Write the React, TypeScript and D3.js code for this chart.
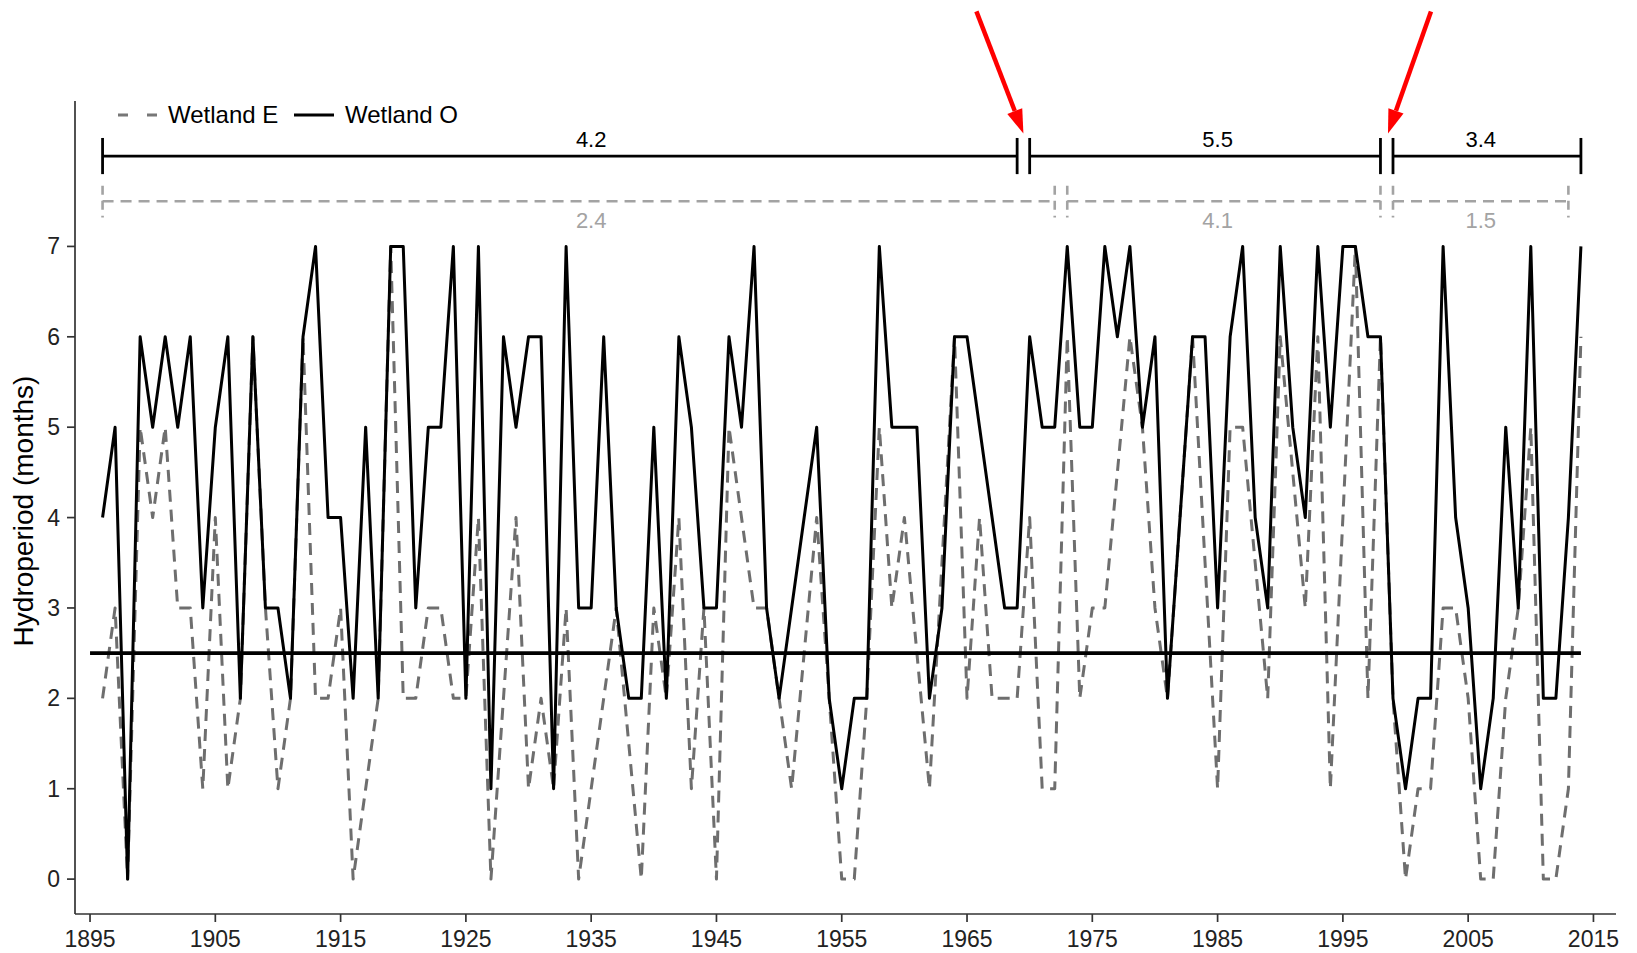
import React from "react";
import * as d3 from "d3";

const years: number[] = d3.range(1896, 2015);

const wetlandO: number[] = [
  4, 5, 0, 6, 5, 6, 5, 6, 3, 5,
  6, 2, 6, 3, 3, 2, 6, 7, 4, 4,
  2, 5, 2, 7, 7, 3, 5, 5, 7, 2,
  7, 1, 6, 5, 6, 6, 1, 7, 3, 3,
  6, 3, 2, 2, 5, 2, 6, 5, 3, 3,
  6, 5, 7, 3, 2, 3, 4, 5, 2, 1,
  2, 2, 7, 5, 5, 5, 2, 3, 6, 6,
  5, 4, 3, 3, 6, 5, 5, 7, 5, 5,
  7, 6, 7, 5, 6, 2, 4, 6, 6, 3,
  6, 7, 4, 3, 7, 5, 4, 7, 5, 7,
  7, 6, 6, 2, 1, 2, 2, 7, 4, 3,
  1, 2, 5, 3, 7, 2, 2, 4, 7,
];

const wetlandE: number[] = [
  2, 3, 0, 5, 4, 5, 3, 3, 1, 4,
  1, 2, 6, 3, 1, 2, 6, 2, 2, 3,
  0, 1, 2, 7, 2, 2, 3, 3, 2, 2,
  4, 0, 2, 4, 1, 2, 1, 3, 0, 1,
  2, 3, 1.5, 0, 3, 2, 4, 1, 3, 0,
  5, 4, 3, 3, 2, 1, 2.5, 4, 2, 0,
  0, 2, 5, 3, 4, 2.5, 1, 3.5, 6, 2,
  4, 2, 2, 2, 4, 1, 1, 6, 2, 3,
  3, 4.5, 6, 5, 3, 2, 4, 6, 3.5, 1,
  5, 5, 3.5, 2, 6, 4.5, 3, 6, 1, 4,
  7, 2, 6, 2, 0, 1, 1, 3, 3, 2,
  0, 0, 2, 3, 5, 0, 0, 1, 6,
];

const xTicks: number[] = d3.range(1895, 2016, 10);
const yTicks: number[] = [0, 1, 2, 3, 4, 5, 6, 7];

const oPeriods: [number, number][] = [[1896, 1969], [1970, 1998], [1999, 2014]];
const oMeans: string[] = ["4.2", "5.5", "3.4"];
const ePeriods: [number, number][] = [[1896, 1972], [1973, 1998], [1999, 2013]];
const eMeans: string[] = ["2.4", "4.1", "1.5"];
const labelYears: number[] = [1935, 1985, 2006];
const arrowYears: number[] = [1969.5, 1998.6];
const arrowDx: number[] = [-47, 43];
const threshold = 2.5;
const thresholdSpan: [number, number] = [1895, 2014];

const W = 1637;
const H = 953;
const FONT = "'Liberation Sans', Arial, Helvetica, sans-serif";

export default function App() {
  const x = d3.scaleLinear().domain([1893.8, 2016.8]).range([75, 1616]);
  const y = d3.scaleLinear().domain([-0.386, 8.609]).range([914, 101]);

  const line = d3
    .line<number>()
    .x((_, i) => x(years[i]))
    .y((d) => y(d));

  const oPath = line(wetlandO) || "";
  const ePath = line(wetlandE) || "";

  const oBarY = y(8.0);
  const eBarY = y(7.5);
  const gray = "#a3a3a3";

  return (
    <svg
      width={W}
      height={H}
      style={{ position: "absolute", left: 0, top: 0, display: "block", background: "#fff" }}
      fontFamily={FONT}
    >
      <rect x={0} y={0} width={W} height={H} fill="#fff" />

      {/* dashed series */}
      <path
        d={ePath}
        fill="none"
        stroke="#6e6e6e"
        strokeWidth={3}
        strokeDasharray="12 8"
        strokeLinejoin="round"
      />
      {/* solid series */}
      <path d={oPath} fill="none" stroke="#000" strokeWidth={3} strokeLinejoin="round" />

      {/* threshold line */}
      <line
        x1={x(thresholdSpan[0])}
        x2={x(thresholdSpan[1])}
        y1={y(threshold)}
        y2={y(threshold)}
        stroke="#000"
        strokeWidth={3.8}
      />

      {/* O brackets */}
      {oPeriods.map(([a, b], i) => (
        <g key={"o" + i} stroke="#000" strokeWidth={2.8}>
          <line x1={x(a)} x2={x(b)} y1={oBarY} y2={oBarY} />
          <line x1={x(a)} x2={x(a)} y1={y(8.2)} y2={y(7.8)} />
          <line x1={x(b)} x2={x(b)} y1={y(8.2)} y2={y(7.8)} />
        </g>
      ))}
      {oMeans.map((m, i) => (
        <text key={"ol" + i} x={x(labelYears[i])} y={y(8.1)} textAnchor="middle" fontSize={22} fill="#000">
          {m}
        </text>
      ))}

      {/* E brackets */}
      {ePeriods.map(([a, b], i) => (
        <g key={"e" + i} stroke={gray} strokeWidth={2.6} strokeDasharray="11 7">
          <line x1={x(a)} x2={x(b)} y1={eBarY} y2={eBarY} />
          <line x1={x(a)} x2={x(a)} y1={y(7.67)} y2={y(7.32)} strokeDasharray="9 6" />
          <line x1={x(b)} x2={x(b)} y1={y(7.67)} y2={y(7.32)} strokeDasharray="9 6" />
        </g>
      ))}
      {eMeans.map((m, i) => (
        <text key={"el" + i} x={x(labelYears[i])} y={y(7.2)} textAnchor="middle" fontSize={22} fill={gray}>
          {m}
        </text>
      ))}

      {/* red arrows */}
      {arrowYears.map((yr, i) => {
        const tx = x(yr);
        const ty = y(8.25);
        const sx = tx + arrowDx[i];
        const sy = y(9.6);
        const ang = Math.atan2(ty - sy, tx - sx);
        const len = 24;
        const hw = 8;
        const bx = tx - len * Math.cos(ang);
        const by = ty - len * Math.sin(ang);
        const px = -Math.sin(ang);
        const py = Math.cos(ang);
        return (
          <g key={"a" + i}>
            <line x1={sx} y1={sy} x2={bx} y2={by} stroke="#ff0000" strokeWidth={4.5} />
            <polygon
              points={`${tx},${ty} ${bx + px * hw},${by + py * hw} ${bx - px * hw},${by - py * hw}`}
              fill="#ff0000"
            />
          </g>
        );
      })}

      {/* axes */}
      <line x1={75} x2={75} y1={101} y2={914} stroke="#333" strokeWidth={1.7} />
      <line x1={75} x2={1616} y1={914} y2={914} stroke="#333" strokeWidth={1.7} />
      {xTicks.map((t) => (
        <g key={"xt" + t}>
          <line x1={x(t)} x2={x(t)} y1={914} y2={922} stroke="#333" strokeWidth={1.7} />
          <text x={x(t)} y={947} textAnchor="middle" fontSize={23} fill="#222">
            {t}
          </text>
        </g>
      ))}
      {yTicks.map((t) => (
        <g key={"yt" + t}>
          <line x1={67} x2={75} y1={y(t)} y2={y(t)} stroke="#333" strokeWidth={1.7} />
          <text x={60} y={y(t)} dy="0.35em" textAnchor="end" fontSize={23} fill="#222">
            {t}
          </text>
        </g>
      ))}
      <text
        transform={`translate(33, 511) rotate(-90)`}
        textAnchor="middle"
        fontSize={28}
        fill="#000"
      >
        Hydroperiod (months)
      </text>

      {/* legend */}
      <line x1={118} x2={158} y1={115} y2={115} stroke="#777" strokeWidth={3} strokeDasharray="10 19" />
      <text x={168} y={115} dy="0.35em" fontSize={24} fill="#000">
        Wetland E
      </text>
      <line x1={294} x2={334} y1={115} y2={115} stroke="#000" strokeWidth={3} />
      <text x={345} y={115} dy="0.35em" fontSize={24} fill="#000">
        Wetland O
      </text>
    </svg>
  );
}
